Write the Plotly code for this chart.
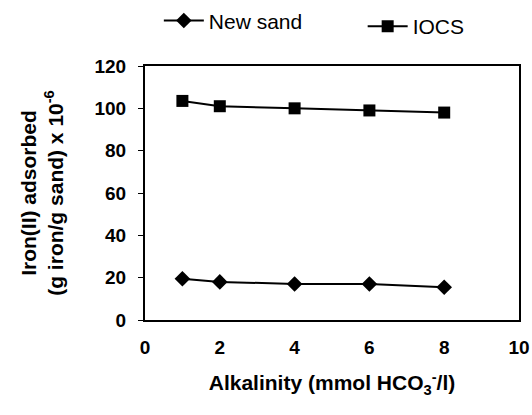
import plotly.graph_objects as go

# Alkalinity levels (mmol HCO3-/l)
alkalinity = [1, 2, 4, 6, 8]
# Iron(II) adsorbed, g iron / g sand x 10^-6
new_sand = [19.5, 18, 17, 17, 15.5]
iocs = [103.5, 101, 100, 99, 98]

x_ticks = [0, 2, 4, 6, 8, 10]
y_ticks = [0, 20, 40, 60, 80, 100, 120]

font_family = "Liberation Sans, Arial, sans-serif"

fig = go.Figure()
fig.add_trace(go.Scatter(
    x=alkalinity, y=new_sand, name="New sand", mode="lines+markers",
    line=dict(color="black", width=2),
    marker=dict(symbol="diamond", size=12, color="black"),
    legend="legend", showlegend=True,
))
fig.add_trace(go.Scatter(
    x=alkalinity, y=iocs, name="IOCS", mode="lines+markers",
    line=dict(color="black", width=2),
    marker=dict(symbol="square", size=12, color="black"),
    legend="legend2", showlegend=True,
))

fig.update_layout(
    width=532, height=415,
    showlegend=True,
    margin=dict(l=145, r=13, t=66, b=95, autoexpand=False),
    paper_bgcolor="white", plot_bgcolor="white",
    font=dict(family=font_family, color="black"),
    legend=dict(x=0.037, y=1.178, xanchor="left", yanchor="middle",
                font=dict(size=21), bgcolor="rgba(0,0,0,0)", itemwidth=40,
                visible=True),
    legend2=dict(x=0.582, y=1.155, xanchor="left", yanchor="middle",
                 font=dict(size=21), bgcolor="rgba(0,0,0,0)", itemwidth=40,
                 visible=True),
    xaxis=dict(
        range=[0, 10], tickvals=x_ticks, ticks="",
        showline=True, linecolor="black", linewidth=2, mirror=True,
        showgrid=False, zeroline=False,
        tickfont=dict(size=19, family=font_family, weight="bold"),
        ticklabelstandoff=9,
        title=dict(text="Alkalinity (mmol HCO<sub>3</sub><sup>-</sup>/l)",
                   font=dict(size=21, weight="bold"), standoff=19),
    ),
    yaxis=dict(
        range=[0, 120], tickvals=y_ticks, ticks="outside", ticklen=5,
        tickcolor="black", tickwidth=1,
        showline=True, linecolor="black", linewidth=2, mirror=True,
        showgrid=False, zeroline=False,
        tickfont=dict(size=19, family=font_family, weight="bold"),
        ticklabelstandoff=8,
        title=dict(text="Iron(II) adsorbed<br>(g iron/g sand) x 10<sup>-6</sup>",
                   font=dict(size=21, weight="bold"), standoff=25),
    ),
)

fig.write_html("out.html")
